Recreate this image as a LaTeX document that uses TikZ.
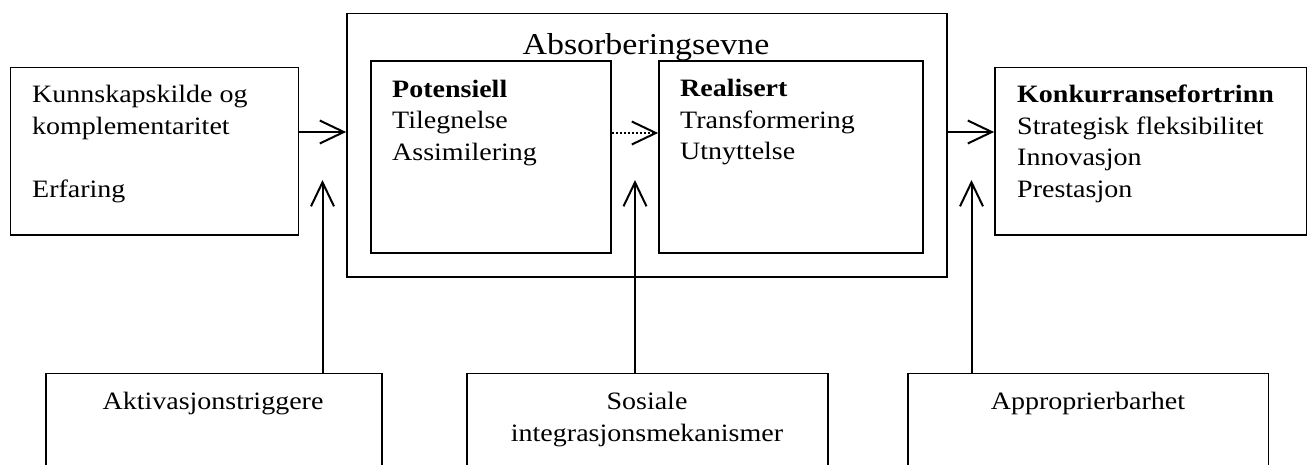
\documentclass[tikz,border=0pt]{standalone}
\usepackage{fontspec}
\setmainfont{Liberation Serif}[FakeStretch=1.12]
\usetikzlibrary{arrows.meta,fit}
\begin{document}
\begin{tikzpicture}[x=1pt,y=-1pt,
  box/.style={draw, line width=1.8pt, inner sep=0pt},
  txt/.style={anchor=base west, align=left, inner sep=0pt, font=\fontsize{25}{31.5}\selectfont},
  ctxt/.style={anchor=base, align=center, inner sep=0pt, font=\fontsize{25}{32.5}\selectfont},
  arr/.style={line width=2pt, -{Straight Barb[length=24pt,width=23pt,line width=2pt]}}]
\clip (0,0) rectangle (1312,464);
% boxes
\node[box, fit={(10.5,67.5) (298.5,235)}] (left) {};
\node[box, fit={(347,13.5) (947,277)}] (outer) {};
\node[box, fit={(371,61) (611,253)}] (pot) {};
\node[box, fit={(659,61) (923,253)}] (real) {};
\node[box, fit={(995,67.5) (1306.5,235)}] (konk) {};
\node[box, fit={(46,373.5) (382,520)}] (akt) {};
\node[box, fit={(467,373.5) (828,520)}] (sos) {};
\node[box, fit={(908,373.5) (1268.5,520)}] (app) {};
% texts (base anchor = baseline of the last line)
\node[txt] (lefttxt) at (32,197) {Kunnskapskilde og\\komplementaritet\\[31.5pt]Erfaring};
\node[anchor=base, inner sep=0pt, font=\fontsize{30.3}{36}\selectfont] (title) at (646,54) {Absorberingsevne};
\node[txt] (pottxt) at (392,160) {\textbf{Potensiell}\\Tilegnelse\\Assimilering};
\node[txt] (realtxt) at (680,159.5) {\textbf{Realisert}\\Transformering\\Utnyttelse};
\node[txt] (konktxt) at (1017,197) {\textbf{Konkurransefortrinn}\\Strategisk fleksibilitet\\Innovasjon\\Prestasjon};
\node[ctxt] (akttxt) at (213,409) {Aktivasjonstriggere};
\node[ctxt] (sostxt) at (647,441.5) {Sosiale\\integrasjonsmekanismer};
\node[ctxt] (apptxt) at (1088,409) {Approprierbarhet};
% horizontal arrows
\draw[arr] (left.east |- 0,132) -- (outer.west |- 0,132);
\draw[arr, dotted] (pot.east |- 0,133) -- (real.west |- 0,133);
\draw[arr] (outer.east |- 0,132) -- (konk.west |- 0,132);
% vertical arrows
\coordinate (t1) at (322.5,180);
\coordinate (t2) at (635,180);
\coordinate (t3) at (971.5,180);
\draw[arr] (akt.north -| t1) -- (t1);
\draw[arr] (sos.north -| t2) -- (t2);
\draw[arr] (app.north -| t3) -- (t3);
\end{tikzpicture}
\end{document}
